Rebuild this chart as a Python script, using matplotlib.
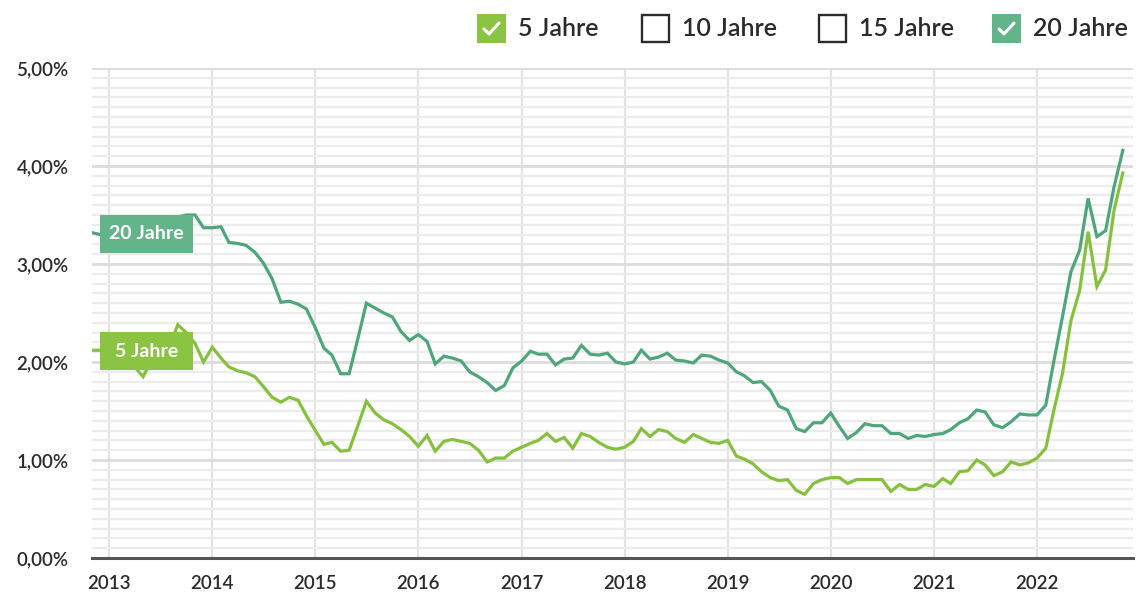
import pandas as pd
import matplotlib
matplotlib.use('Agg')
import matplotlib.pyplot as plt
import matplotlib.dates as mdates
import matplotlib.transforms as mtransforms
from matplotlib.patches import Rectangle
from matplotlib.lines import Line2D
from matplotlib.ticker import MultipleLocator, FuncFormatter

# monthly rates, Nov 2012 .. Nov 2022
months = pd.date_range('2012-11-01', periods=121, freq='MS')

zins_5 = [
    2.12, 2.12, 2.08, 2.02, 2.05, 1.95, 1.85, 2.02, 2.08, 2.15, 2.38, 2.30,
    2.19, 2.00, 2.15, 2.04, 1.95, 1.91, 1.89, 1.85, 1.75, 1.64, 1.59, 1.64,
    1.61, 1.45, 1.30, 1.16, 1.18, 1.09, 1.10, 1.35, 1.60, 1.48, 1.41, 1.37,
    1.31, 1.24, 1.14, 1.25, 1.09, 1.19, 1.21, 1.19, 1.17, 1.10, 0.98, 1.02,
    1.02, 1.09, 1.13, 1.17, 1.20, 1.27, 1.19, 1.23, 1.12, 1.27, 1.24, 1.18,
    1.13, 1.11, 1.13, 1.19, 1.32, 1.24, 1.31, 1.29, 1.22, 1.18, 1.26, 1.22,
    1.18, 1.17, 1.20, 1.04, 1.01, 0.96, 0.88, 0.82, 0.79, 0.80, 0.69, 0.65,
    0.76, 0.80, 0.82, 0.82, 0.76, 0.80, 0.80, 0.80, 0.80, 0.68, 0.75, 0.70,
    0.70, 0.75, 0.73, 0.81, 0.76, 0.88, 0.89, 1.00, 0.95, 0.84, 0.88, 0.98,
    0.95, 0.97, 1.02, 1.12, 1.50, 1.88, 2.42, 2.73, 3.33, 2.77, 2.94, 3.55,
    3.93,
]

zins_20 = [
    3.32, 3.30, 3.28, 3.33, 3.30, 3.24, 3.16, 3.30, 3.40, 3.45, 3.48, 3.50,
    3.50, 3.37, 3.37, 3.38, 3.22, 3.21, 3.19, 3.12, 3.01, 2.85, 2.61, 2.62,
    2.59, 2.54, 2.35, 2.14, 2.07, 1.88, 1.88, 2.24, 2.60, 2.55, 2.50, 2.46,
    2.31, 2.22, 2.28, 2.21, 1.98, 2.06, 2.04, 2.01, 1.90, 1.85, 1.79, 1.71,
    1.76, 1.94, 2.01, 2.11, 2.08, 2.08, 1.97, 2.03, 2.04, 2.17, 2.08, 2.07,
    2.09, 2.00, 1.98, 2.00, 2.12, 2.03, 2.05, 2.09, 2.02, 2.01, 1.99, 2.07,
    2.06, 2.02, 1.99, 1.90, 1.86, 1.79, 1.80, 1.71, 1.55, 1.51, 1.32, 1.29,
    1.38, 1.38, 1.48, 1.34, 1.22, 1.28, 1.37, 1.35, 1.35, 1.27, 1.27, 1.22,
    1.25, 1.24, 1.26, 1.27, 1.31, 1.38, 1.42, 1.51, 1.49, 1.36, 1.33, 1.39,
    1.47, 1.46, 1.46, 1.56, 2.00, 2.46, 2.92, 3.14, 3.67, 3.28, 3.34, 3.79,
    4.16,
]

legend_names = ['5 Jahre', '10 Jahre', '15 Jahre', '20 Jahre']
legend_checked = [True, False, False, True]

c5, c5_box = '#85c13d', '#8bc443'
c20, c20_box = '#4ea67a', '#63b48b'
dark = '#2b2b2b'

plt.rcParams['font.family'] = ['Lato', 'DejaVu Sans']

W, H = 1144, 599
fig = plt.figure(figsize=(W / 100, H / 100), dpi=100)
ax = fig.add_axes([92 / W, 41 / H, 1041 / W, 490 / H])

ax.plot(months, zins_20, color=c20, lw=2.3, zorder=3, solid_joinstyle='miter')
ax.plot(months, zins_5, color=c5, lw=2.3, zorder=3, solid_joinstyle='miter')

ax.set_xlim(months[0], months[-1] + pd.Timedelta(days=36))
ax.set_ylim(0, 5)

ax.yaxis.set_major_locator(MultipleLocator(1))
ax.yaxis.set_minor_locator(MultipleLocator(0.1))
ax.yaxis.set_major_formatter(FuncFormatter(lambda v, p: f'{v:.2f}'.replace('.', ',') + '%'))
ax.set_xticks(pd.to_datetime([f'{y}-01-01' for y in range(2013, 2023)]))
ax.set_xticklabels([str(y) for y in range(2013, 2023)])

ax.grid(which='minor', axis='y', color='#ececec', lw=1.6, zorder=0)
ax.grid(which='major', axis='y', color='#dcdcdc', lw=2.0, zorder=0)
ax.grid(which='major', axis='x', color='#e3e3e3', lw=1.6, zorder=0)
ax.set_axisbelow(True)

for s in ['top', 'right', 'left']:
    ax.spines[s].set_visible(False)
ax.spines['bottom'].set_color('#555555')
ax.spines['bottom'].set_linewidth(2.2)
ax.spines['bottom'].set_zorder(4)

ax.tick_params(which='both', length=0)
ax.tick_params(axis='y', pad=17, labelsize=13.5, labelcolor=dark)
ax.tick_params(axis='x', pad=12, labelsize=13.5, labelcolor=dark)
for lab in ax.get_xticklabels() + ax.get_yticklabels():
    lab.set_fontweight('semibold')


# series labels pinned at the first data point
def series_label(x, y, text, color):
    off = mtransforms.ScaledTranslation(mdates.date2num(x), y, ax.transData)
    tr = fig.dpi_scale_trans + off
    ax.add_artist(Rectangle((0.08, -0.20), 0.93, 0.38, transform=tr,
                            facecolor=color, edgecolor='none', zorder=6,
                            clip_on=False))
    ax.text(0.545, -0.01, text, transform=tr, ha='center', va='center',
            color='white', fontsize=14, fontweight='bold', zorder=7)


series_label(months[0], zins_20[0], '20 Jahre', c20_box)
series_label(months[0], zins_5[0], '5 Jahre', c5_box)

# legend with check boxes along the top
box_left = [477, 641, 818, 992]
box_cols = [c5_box, None, None, c20_box]
for name, checked, bx, col in zip(legend_names, legend_checked, box_left, box_cols):
    top = 14
    size = 29
    y0 = (H - top - size) / 100
    if checked:
        fig.add_artist(Rectangle((bx / 100, y0), size / 100, size / 100,
                                 transform=fig.dpi_scale_trans,
                                 facecolor=col, edgecolor='none'))
        xs = [bx + 7, bx + 12, bx + 22]
        ys = [top + 15, top + 20, top + 9]
        fig.add_artist(Line2D([v / 100 for v in xs], [(H - v) / 100 for v in ys],
                              transform=fig.dpi_scale_trans, color='white',
                              lw=2.2, solid_capstyle='round'))
    else:
        fig.add_artist(Rectangle(((bx + 1) / 100, y0 + 0.01), (size - 2) / 100, (size - 2) / 100,
                                 transform=fig.dpi_scale_trans,
                                 facecolor='white', edgecolor=dark, lw=1.7))
    fig.text((bx + 41) / 100, (H - 29) / 100, name, transform=fig.dpi_scale_trans,
             ha='left', va='center', fontsize=18, fontweight='semibold', color=dark)

fig.savefig('out.png', dpi=100)
